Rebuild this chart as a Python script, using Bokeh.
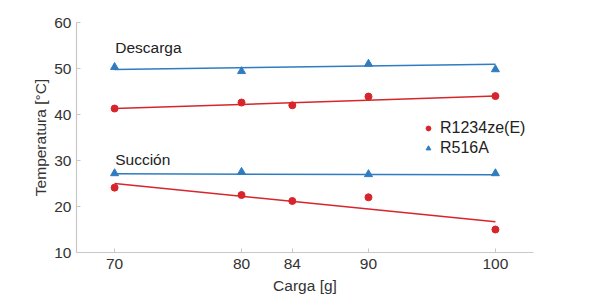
from bokeh.plotting import figure
from bokeh.models import FixedTicker, Label, Legend, LegendItem, Range1d
from bokeh.embed import file_html
from bokeh.resources import INLINE

# ---- data ----
carga_r1234 = [70, 80, 84, 90, 100]
desc_r1234 = [41.3, 42.6, 42.0, 43.9, 44.0]
succ_r1234 = [24.1, 22.5, 21.2, 22.0, 15.0]

carga_r516 = [70, 80, 90, 100]
desc_r516 = [50.3, 49.4, 51.0, 49.8]
succ_r516 = [27.2, 27.5, 27.0, 27.2]

fit_x = [70, 100]
fit_desc_r1234 = [41.3, 44.0]
fit_succ_r1234 = [25.0, 16.7]
fit_desc_r516 = [49.8, 50.9]
fit_succ_r516 = [27.1, 26.9]

x_ticks = [70, 80, 84, 90, 100]
y_ticks = [10, 20, 30, 40, 50, 60]

RED = "#d7252b"
BLUE = "#2f7cc0"
FONT = "Liberation Sans"

p = figure(width=590, height=296, output_backend="svg", toolbar_location=None,
           x_range=Range1d(67, 103), y_range=Range1d(10, 60),
           min_border_left=76, min_border_right=57, min_border_top=22,
           min_border_bottom=44)
p.outline_line_color = None
p.xgrid.visible = False
p.ygrid.visible = False
p.background_fill_color = "white"
p.border_fill_color = "white"

for ax in (p.xaxis[0], p.yaxis[0]):
    ax.axis_line_color = "#c8c8c8"
    ax.axis_line_width = 1.2
    ax.major_tick_line_color = "#c8c8c8"
    ax.major_tick_in = 4
    ax.major_tick_out = 0
    ax.minor_tick_line_color = None
    ax.major_label_text_font = FONT
    ax.major_label_text_font_size = "15.5px"
    ax.major_label_text_color = "#333333"
    ax.axis_label_text_font = FONT
    ax.axis_label_text_font_size = "15.5px"
    ax.axis_label_text_font_style = "normal"
    ax.axis_label_text_color = "#333333"

p.xaxis.ticker = FixedTicker(ticks=x_ticks)
p.yaxis.ticker = FixedTicker(ticks=y_ticks)
p.xaxis.axis_label = "Carga [g]"
p.yaxis.axis_label = "Temperatura [°C]"
p.xaxis.major_label_standoff = 6
p.yaxis.major_label_standoff = 5
p.xaxis.axis_label_standoff = 5
p.yaxis.axis_label_standoff = 2

# fit lines
p.line(fit_x, fit_desc_r1234, line_color=RED, line_width=1.5)
p.line(fit_x, fit_succ_r1234, line_color=RED, line_width=1.5)
p.line(fit_x, fit_desc_r516, line_color=BLUE, line_width=1.5)
p.line(fit_x, fit_succ_r516, line_color=BLUE, line_width=1.5)

# points
r1 = p.scatter(carga_r1234, desc_r1234, marker="circle", size=7,
               fill_color=RED, line_color=RED)
p.scatter(carga_r1234, succ_r1234, marker="circle", size=7,
          fill_color=RED, line_color=RED)
r2 = p.scatter(carga_r516, desc_r516, marker="triangle", size=8,
               fill_color=BLUE, line_color=BLUE)
p.scatter(carga_r516, succ_r516, marker="triangle", size=8,
          fill_color=BLUE, line_color=BLUE)

legend = Legend(items=[LegendItem(label="R1234ze(E)", renderers=[r1]),
                       LegendItem(label="R516A", renderers=[r2])],
                location=(346, 94), orientation="vertical")
legend.border_line_color = None
legend.background_fill_alpha = 0
legend.padding = 0
legend.margin = 0
legend.spacing = 0
legend.glyph_width = 12
legend.glyph_height = 20
legend.label_height = 20
legend.label_standoff = 6
legend.label_text_font = FONT
legend.label_text_font_size = "16px"
legend.label_text_color = "#222222"
p.add_layout(legend)

p.add_layout(Label(x=70.05, y=54.6, text="Descarga", text_align="left",
                   text_baseline="alphabetic", text_font=FONT,
                   text_font_size="15.5px", text_color="#222222"))
p.add_layout(Label(x=70.05, y=30.2, text="Succión", text_align="left",
                   text_baseline="alphabetic", text_font=FONT,
                   text_font_size="15.5px", text_color="#222222"))

open("out.html", "w").write(file_html(p, INLINE))
